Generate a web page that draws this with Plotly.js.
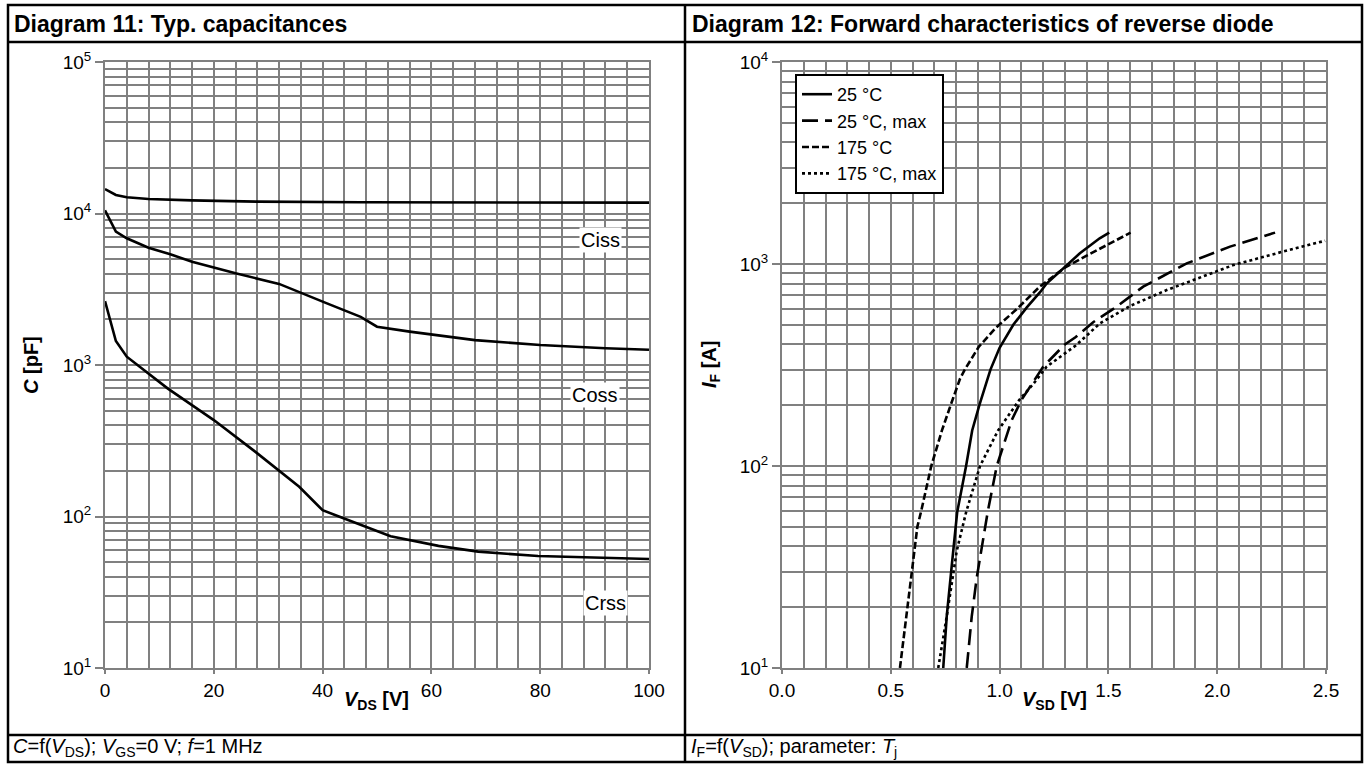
<!DOCTYPE html>
<html>
<head>
<meta charset="utf-8">
<script src="https://cdn.plot.ly/plotly-3.0.1.min.js"></script>
<style>html,body{margin:0;padding:0;background:#fff;}#chart{width:1364px;height:765px;}</style>
</head>
<body>
<div id="chart"></div>
<script>
// ---------- Diagram 11: capacitances ----------
const cissV = [0, 2, 4, 8, 16, 28, 47, 70, 100];
const cissC = [14500, 13250, 12800, 12470, 12200, 11970, 11860, 11800, 11800];
const cossV = [0, 2, 4, 8, 12, 16, 24, 32, 40.8, 47, 50, 56, 68, 80, 92, 100];
const cossC = [10500, 7600, 6860, 5950, 5380, 4810, 4030, 3430, 2550, 2080, 1790, 1660, 1460, 1355, 1290, 1260];
const crssV = [0, 2, 4, 8, 11.5, 20, 27.6, 35.7, 40, 43, 52.5, 61.3, 68.6, 79.6, 100];
const crssC = [2640, 1440, 1135, 881, 701, 433, 268, 157, 110, 100, 74, 64, 58.6, 54.8, 52.4];
const capLabels = ["Ciss", "Coss", "Crss"];
const capLabelV = [91, 90, 92];
const capLabelC = [6680, 634, 27];
const capTickVals = [10, 100, 1000, 10000, 100000];
const capTickText = ["10<sup>1</sup>", "10<sup>2</sup>", "10<sup>3</sup>", "10<sup>4</sup>", "10<sup>5</sup>"];

// ---------- Diagram 12: diode forward characteristics ----------
const seriesNames = ["25 °C", "25 °C, max", "175 °C", "175 °C, max"];
const v25 = [0.741, 0.757, 0.78, 0.805, 0.846, 0.874, 0.907, 0.942, 0.958, 1.0, 1.063, 1.125, 1.186, 1.216, 1.308, 1.369, 1.46, 1.504];
const i25 = [10, 18, 32, 59, 100, 150, 200, 267, 300, 385, 500, 610, 725, 800, 990, 1130, 1340, 1430];
const v25max = [0.849, 0.872, 0.895, 0.935, 0.945, 0.987, 1.055, 1.1, 1.155, 1.2, 1.3, 1.35, 1.43, 1.538, 1.66, 1.86, 2.059, 2.266];
const i25max = [10, 18, 28, 50, 59, 100, 168, 212, 260, 310, 400, 435, 515, 615, 773, 1007, 1219, 1430];
const v175 = [0.542, 0.578, 0.600, 0.622, 0.640, 0.686, 0.735, 0.775, 0.818, 0.840, 0.905, 0.98, 1.08, 1.186, 1.3, 1.4, 1.5, 1.602];
const i175 = [10, 20, 32, 50, 60, 100, 150, 200, 270, 300, 390, 480, 600, 775, 960, 1100, 1250, 1430];
const v175max = [0.718, 0.757, 0.803, 0.846, 0.910, 0.993, 1.09, 1.155, 1.216, 1.35, 1.461, 1.6, 1.768, 2.074, 2.3, 2.496];
const i175max = [10, 18, 38, 59, 100, 150, 212, 255, 310, 395, 508, 620, 743, 988, 1150, 1303];
const diodeTickVals = [10, 100, 1000, 10000];
const diodeTickText = ["10<sup>1</sup>", "10<sup>2</sup>", "10<sup>3</sup>", "10<sup>4</sup>"];

const W = 1364, H = 765;
const px = x => x / W;
const py = y => 1 - y / H;
const FONT = "Liberation Sans, Arial, sans-serif";
const GRID = "#808080";
const FS = 19;

const lineStyle = (dash) => ({color: "#000", width: 2.6, dash: dash});

const traces = [
  {x: cissV, y: cissC, mode: "lines", line: lineStyle("solid"), xaxis: "x", yaxis: "y", showlegend: false, name: "Ciss"},
  {x: cossV, y: cossC, mode: "lines", line: lineStyle("solid"), xaxis: "x", yaxis: "y", showlegend: false, name: "Coss"},
  {x: crssV, y: crssC, mode: "lines", line: lineStyle("solid"), xaxis: "x", yaxis: "y", showlegend: false, name: "Crss"},
  {x: v25, y: i25, mode: "lines", line: lineStyle("solid"), xaxis: "x2", yaxis: "y2", name: seriesNames[0]},
  {x: v25max, y: i25max, mode: "lines", line: lineStyle("16px,7px"), xaxis: "x2", yaxis: "y2", name: seriesNames[1]},
  {x: v175, y: i175, mode: "lines", line: lineStyle("7px,3px"), xaxis: "x2", yaxis: "y2", name: seriesNames[2]},
  {x: v175max, y: i175max, mode: "lines", line: lineStyle("3px,3px"), xaxis: "x2", yaxis: "y2", name: seriesNames[3]}
];

const baseAxis = {
  showgrid: true, gridcolor: GRID, gridwidth: 2,
  showline: true, linecolor: GRID, linewidth: 2, mirror: true,
  ticks: "outside", tickcolor: GRID, tickwidth: 2,
  zeroline: false, automargin: false,
  tickfont: {family: FONT, size: FS, color: "#000"}
};
const minorX = (d) => ({dtick: d, showgrid: true, gridcolor: GRID, gridwidth: 2, ticks: ""});
const minorY = {tickmode: "linear", dtick: "D1", showgrid: true, gridcolor: GRID, gridwidth: 2, ticks: ""};

const yDom = [py(668), py(62)];

const layout = {
  width: W, height: H,
  margin: {l: 0, r: 0, t: 0, b: 0},
  paper_bgcolor: "#fff", plot_bgcolor: "#fff",
  font: {family: FONT, size: FS, color: "#000"},
  showlegend: true,
  legend: {
    x: px(795), y: py(74), xanchor: "left", yanchor: "top",
    bgcolor: "#fff", bordercolor: "#000", borderwidth: 2,
    font: {family: FONT, size: 18, color: "#000"},
    tracegroupgap: 0, itemwidth: 30
  },
  xaxis: Object.assign({}, baseAxis, {domain: [px(105), px(649)], range: [0, 100], dtick: 20, tick0: 0, ticklen: 4, minor: minorX(4), anchor: "y"}),
  yaxis: Object.assign({}, baseAxis, {domain: yDom, type: "log", range: [1, 5], tickmode: "array", tickvals: capTickVals, ticktext: capTickText, ticklen: 8, minor: minorY, anchor: "x"}),
  xaxis2: Object.assign({}, baseAxis, {domain: [px(782), px(1326)], range: [0, 2.5], dtick: 0.5, tick0: 0, tickformat: ".1f", ticklen: 4, minor: minorX(0.1), anchor: "y2"}),
  yaxis2: Object.assign({}, baseAxis, {domain: yDom, type: "log", range: [1, 4], tickmode: "array", tickvals: diodeTickVals, ticktext: diodeTickText, ticklen: 8, minor: minorY, anchor: "x2"}),
  shapes: [
    {type: "rect", xref: "paper", yref: "paper", x0: px(8), x1: px(1362), y0: py(762), y1: py(5), line: {color: "#000", width: 2.5}},
    {type: "line", xref: "paper", yref: "paper", x0: px(685), x1: px(685), y0: py(762), y1: py(5), line: {color: "#000", width: 2.5}},
    {type: "line", xref: "paper", yref: "paper", x0: px(8), x1: px(1362), y0: py(42), y1: py(42), line: {color: "#000", width: 2.5}},
    {type: "line", xref: "paper", yref: "paper", x0: px(8), x1: px(1362), y0: py(735), y1: py(735), line: {color: "#000", width: 2.5}}
  ],
  annotations: []
};

const ann = layout.annotations;
// panel titles
ann.push({xref: "paper", yref: "paper", x: px(12), y: py(24), xanchor: "left", yanchor: "middle", showarrow: false,
  text: "<b>Diagram 11: Typ. capacitances</b>", font: {family: FONT, size: 23}});
ann.push({xref: "paper", yref: "paper", x: px(690), y: py(24), xanchor: "left", yanchor: "middle", showarrow: false,
  text: "<b>Diagram 12: Forward characteristics of reverse diode</b>", font: {family: FONT, size: 23}});
// footers
ann.push({xref: "paper", yref: "paper", x: px(11), y: py(747), xanchor: "left", yanchor: "middle", showarrow: false,
  text: "<i>C</i>=f(<i>V</i><sub>DS</sub>); <i>V</i><sub>GS</sub>=0 V; <i>f</i>=1 MHz", font: {family: FONT, size: 20}});
ann.push({xref: "paper", yref: "paper", x: px(689), y: py(747), xanchor: "left", yanchor: "middle", showarrow: false,
  text: "<i>I</i><sub>F</sub>=f(<i>V</i><sub>SD</sub>); parameter: <i>T</i><sub>j</sub>", font: {family: FONT, size: 20}});
// axis titles
ann.push({xref: "paper", yref: "paper", x: px(377), y: py(700), xanchor: "center", yanchor: "middle", showarrow: false,
  text: "<b><i>V</i><sub>DS</sub> [V]</b>", font: {family: FONT, size: 20}});
ann.push({xref: "paper", yref: "paper", x: px(1054), y: py(700), xanchor: "center", yanchor: "middle", showarrow: false,
  text: "<b><i>V</i><sub>SD</sub> [V]</b>", font: {family: FONT, size: 20}});
ann.push({xref: "paper", yref: "paper", x: px(31), y: py(365), xanchor: "center", yanchor: "middle", showarrow: false, textangle: -90,
  text: "<b><i>C</i> [pF]</b>", font: {family: FONT, size: 20}});
ann.push({xref: "paper", yref: "paper", x: px(710), y: py(365), xanchor: "center", yanchor: "middle", showarrow: false, textangle: -90,
  text: "<b><i>I</i><sub>F</sub> [A]</b>", font: {family: FONT, size: 20}});
// curve labels
for (let k = 0; k < capLabels.length; k++) {
  ann.push({xref: "x", yref: "y", x: capLabelV[k], y: Math.log10(capLabelC[k]), showarrow: false,
    text: capLabels[k], bgcolor: "#fff", borderpad: 1, font: {family: FONT, size: 20}});
}

Plotly.newPlot("chart", traces, layout, {staticPlot: true, displayModeBar: false});
</script>
</body>
</html>
